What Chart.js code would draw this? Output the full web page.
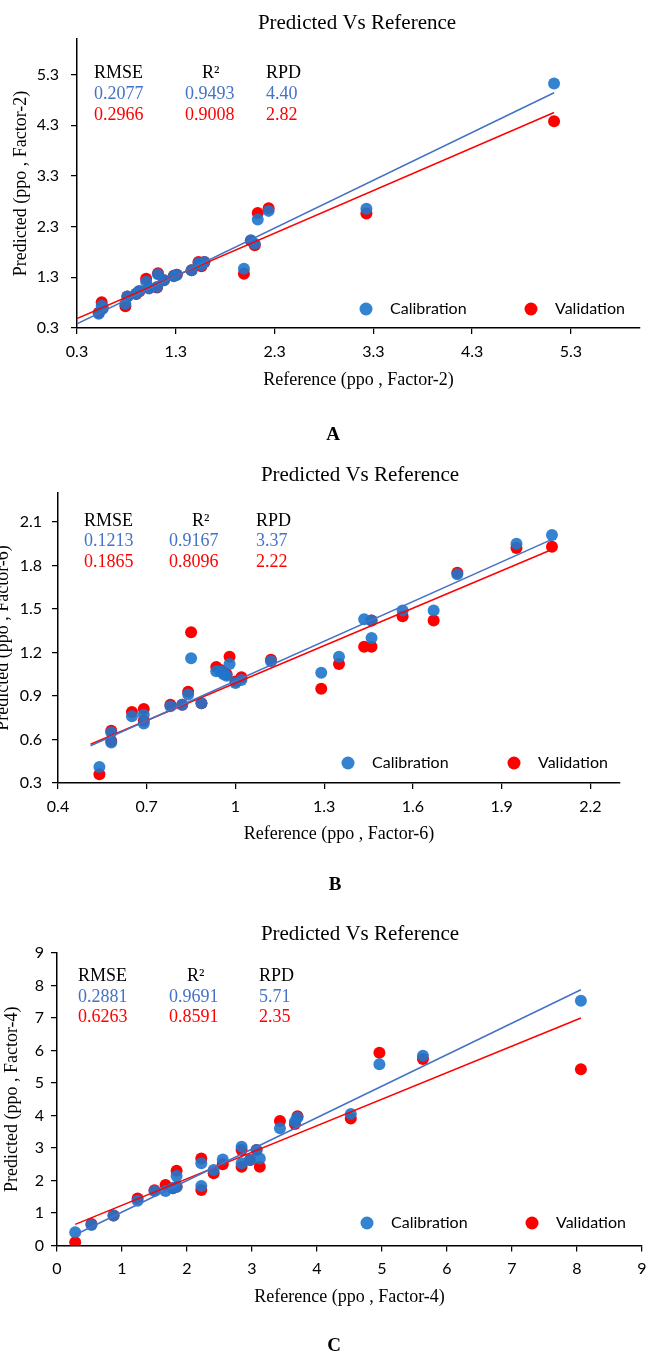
<!DOCTYPE html>
<html>
<head>
<meta charset="utf-8">
<script src="https://cdn.jsdelivr.net/npm/chart.js@4.4.0/dist/chart.umd.min.js"></script>
<style>
  body { margin: 0; background: #fff; }
  canvas { position: absolute; left: 0; }
</style>
</head>
<body>
<canvas id="chartA" width="648" height="450" style="top:0px"></canvas>
<canvas id="chartB" width="648" height="450" style="top:450px"></canvas>
<canvas id="chartC" width="648" height="453" style="top:900px"></canvas>
<script>
// ---- panel A (Factor-2) ----
const refA = [0.52, 0.55, 0.56, 0.79, 0.81, 0.90, 0.93, 1.00, 1.03, 1.11, 1.12, 1.18, 1.28, 1.31, 1.46, 1.53, 1.56, 1.59, 1.99, 2.06, 2.10, 2.13, 2.24, 3.23, 5.13];
const calA = [0.58, 0.74, 0.68, 0.78, 0.92, 0.98, 1.03, 1.21, 1.08, 1.11, 1.36, 1.24, 1.32, 1.35, 1.44, 1.58, 1.54, 1.60, 1.47, 2.03, 1.96, 2.44, 2.61, 2.65, 5.12];
const valA = [0.60, 0.81, 0.70, 0.73, 0.92, 0.97, 1.02, 1.27, 1.09, 1.10, 1.38, 1.24, 1.33, 1.35, 1.44, 1.60, 1.52, 1.60, 1.37, 2.02, 1.93, 2.57, 2.66, 2.56, 4.38];
const fitCalA = [[0.3, 0.38], [5.13, 4.94]];
const fitValA = [[0.3, 0.485], [5.13, 4.55]];
const ticksA = [0.3, 1.3, 2.3, 3.3, 4.3, 5.3];
const tickLabelsA = ['0.3', '1.3', '2.3', '3.3', '4.3', '5.3'];
const statsA = { cal: ['0.2077', '0.9493', '4.40'], val: ['0.2966', '0.9008', '2.82'] };

// ---- panel B (Factor-6) ----
const refB = [0.54, 0.58, 0.58, 0.65, 0.69, 0.69, 0.78, 0.82, 0.84, 0.85, 0.885, 0.935, 0.95, 0.96, 0.97, 0.98, 1.00, 1.02, 1.12, 1.29, 1.35, 1.435, 1.46, 1.46, 1.565, 1.67, 1.75, 1.95, 2.07];
const calB = [0.41, 0.65, 0.58, 0.76, 0.77, 0.71, 0.83, 0.84, 0.91, 1.16, 0.85, 1.07, 1.07, 1.05, 1.04, 1.12, 0.99, 1.01, 1.14, 1.06, 1.17, 1.43, 1.42, 1.30, 1.49, 1.49, 1.74, 1.95, 2.01];
const valB = [0.36, 0.66, 0.59, 0.79, 0.81, 0.73, 0.84, 0.84, 0.93, 1.34, 0.85, 1.10, 1.08, 1.06, 1.05, 1.17, 1.00, 1.03, 1.15, 0.95, 1.12, 1.24, 1.42, 1.24, 1.45, 1.42, 1.75, 1.92, 1.93];
const fitCalB = [[0.51, 0.557], [2.07, 1.98]];
const fitValB = [[0.51, 0.567], [2.07, 1.91]];
const xTicksB = [0.4, 0.7, 1, 1.3, 1.6, 1.9, 2.2];
const xTickLabelsB = ['0.4', '0.7', '1', '1.3', '1.6', '1.9', '2.2'];
const yTicksB = [0.3, 0.6, 0.9, 1.2, 1.5, 1.8, 2.1];
const yTickLabelsB = ['0.3', '0.6', '0.9', '1.2', '1.5', '1.8', '2.1'];
const statsB = { cal: ['0.1213', '0.9167', '3.37'], val: ['0.1865', '0.8096', '2.22'] };

// ---- panel C (Factor-4) ----
const refC = [0.28, 0.53, 0.87, 1.24, 1.50, 1.67, 1.78, 1.84, 1.84, 2.22, 2.22, 2.41, 2.55, 2.84, 2.84, 2.97, 3.07, 3.12, 3.43, 3.66, 3.70, 4.52, 4.96, 5.63, 8.06];
const calC = [0.41, 0.63, 0.92, 1.38, 1.68, 1.68, 1.76, 1.81, 2.14, 2.53, 1.83, 2.32, 2.65, 3.04, 2.53, 2.63, 2.94, 2.68, 3.61, 3.81, 3.94, 4.05, 5.58, 5.84, 7.53];
const valC = [0.10, 0.66, 0.92, 1.45, 1.70, 1.86, 1.76, 1.81, 2.30, 2.68, 1.71, 2.22, 2.50, 2.94, 2.42, 2.63, 2.94, 2.42, 3.83, 3.74, 3.98, 3.91, 5.93, 5.74, 5.42];
const fitCalC = [[0.28, 0.33], [8.06, 7.87]];
const fitValC = [[0.28, 0.65], [8.06, 7.0]];
const ticksC = [0, 1, 2, 3, 4, 5, 6, 7, 8, 9];
const tickLabelsC = ['0', '1', '2', '3', '4', '5', '6', '7', '8', '9'];
const statsC = { cal: ['0.2881', '0.9691', '5.71'], val: ['0.6263', '0.8591', '2.35'] };

const statHeaders = ['RMSE', 'R\u00B2', 'RPD'];
const seriesNames = ['Calibration', 'Validation'];

const BLUE_DOT = 'rgba(30,118,204,0.9)';
const RED = '#ff0000';
const BLUE_TXT = '#4472c4';
const SERIF = '"Liberation Serif", "Times New Roman", serif';
const SANS = 'Lato, "Liberation Sans", sans-serif';

function pts(xs, ys) {
  return xs.map((x, i) => ({ x: x, y: ys[i] }));
}
function seg(p) {
  return p.map(q => ({ x: q[0], y: q[1] }));
}

// draws title, axis titles, stats table, legend and panel letter
const panelText = {
  id: 'panelText',
  afterDraw(chart, args, o) {
    const ctx = chart.ctx;
    const a = chart.chartArea;
    ctx.save();
    ctx.textBaseline = 'middle';
    ctx.fillStyle = '#000';

    ctx.textAlign = 'center';
    ctx.font = '21px ' + SERIF;
    ctx.fillText('Predicted Vs Reference', o.titleX, o.titleY);

    ctx.font = '18px ' + SERIF;
    ctx.fillText(o.xTitle, (a.left + a.right) / 2, o.xTitleY);
    ctx.save();
    ctx.translate(o.yTitleX, (a.top + a.bottom) / 2);
    ctx.rotate(-Math.PI / 2);
    ctx.fillText(o.yTitle, 0, 0);
    ctx.restore();

    ctx.font = 'bold 19px ' + SERIF;
    ctx.fillText(o.letter, o.letterX, o.letterY);

    // stats table
    ctx.textAlign = 'left';
    ctx.font = '18px ' + SERIF;
    ctx.fillText(statHeaders[0], o.cols[0], o.rows[0]);
    ctx.fillText(statHeaders[1], o.r2X, o.rows[0]);
    ctx.fillText(statHeaders[2], o.cols[2], o.rows[0]);
    ctx.fillStyle = BLUE_TXT;
    o.stats.cal.forEach((s, i) => ctx.fillText(s, o.cols[i], o.rows[1]));
    ctx.fillStyle = RED;
    o.stats.val.forEach((s, i) => ctx.fillText(s, o.cols[i], o.rows[2]));

    // legend
    ctx.font = '16px ' + SANS;
    const colors = [BLUE_DOT, RED];
    for (let i = 0; i < 2; i++) {
      ctx.fillStyle = colors[i];
      ctx.beginPath();
      ctx.arc(o.legX[i], o.legY, 6.5, 0, Math.PI * 2);
      ctx.fill();
      ctx.fillStyle = '#000';
      ctx.fillText(seriesNames[i], o.legX[i] + 24, o.legY);
    }
    ctx.restore();
  }
};

function axis(min, max, ticks, labels, isX, box, pad) {
  return {
    type: 'linear',
    min: min,
    max: max,
    afterBuildTicks: s => { s.ticks = ticks.map(v => ({ value: v })); },
    afterFit: s => {
      if (isX) { s.height = box; s.paddingLeft = 0; s.paddingRight = 0; }
      else { s.width = box; s.paddingTop = 0; s.paddingBottom = 0; }
    },
    ticks: {
      callback: (v, i) => labels[i],
      autoSkip: false,
      maxRotation: 0,
      padding: pad,
      color: '#000',
      font: { family: SANS, size: 16 }
    },
    grid: { drawOnChartArea: false, drawTicks: true, tickLength: 6, color: '#000', lineWidth: 1.25 },
    border: { display: true, color: '#000', width: 1.5 }
  };
}

function makeChart(id, d) {
  const cv = document.getElementById(id);
  return new Chart(cv.getContext('2d'), {
    type: 'scatter',
    data: {
      datasets: [
        { type: 'line', data: seg(d.fitCal), borderColor: BLUE_TXT, borderWidth: 1.5, pointRadius: 0, order: 0 },
        { type: 'line', data: seg(d.fitVal), borderColor: RED, borderWidth: 1.5, pointRadius: 0, order: 0 },
        { label: seriesNames[0], data: pts(d.ref, d.cal), backgroundColor: BLUE_DOT, borderWidth: 0, pointRadius: 6, order: 1 },
        { label: seriesNames[1], data: pts(d.ref, d.val), backgroundColor: RED, borderWidth: 0, pointRadius: 6, order: 1 }
      ]
    },
    options: {
      responsive: false,
      animation: false,
      layout: { padding: { left: 0, top: d.area[1], right: cv.width - d.area[2], bottom: 0 } },
      scales: {
        x: axis(d.xr[0], d.xr[1], d.xt, d.xl, true, cv.height - d.area[3], d.xPad),
        y: axis(d.yr[0], d.yr[1], d.yt, d.yl, false, d.area[0], d.yPad)
      },
      plugins: {
        legend: { display: false },
        tooltip: { enabled: false },
        panelText: d.text
      }
    },
    plugins: [panelText]
  });
}

makeChart('chartA', {
  ref: refA, cal: calA, val: valA, fitCal: fitCalA, fitVal: fitValA,
  xr: [0.3, 6.0], yr: [0.3, 6.0], xt: ticksA, xl: tickLabelsA, yt: ticksA, yl: tickLabelsA,
  area: [77, 39, 640, 328], xPad: 8, yPad: 12,
  text: {
    titleX: 357, titleY: 23, xTitle: 'Reference (ppo , Factor-2)', xTitleY: 380,
    yTitle: 'Predicted (ppo , Factor-2)', yTitleX: 21, letter: 'A', letterX: 333, letterY: 435,
    cols: [94, 185, 266], r2X: 202, rows: [73, 94, 115], stats: statsA,
    legX: [366, 531], legY: 309
  }
});

makeChart('chartB', {
  ref: refB, cal: calB, val: valB, fitCal: fitCalB, fitVal: fitValB,
  xr: [0.4, 2.3], yr: [0.3, 2.3], xt: xTicksB, xl: xTickLabelsB, yt: yTicksB, yl: yTickLabelsB,
  area: [58, 43, 620, 333], xPad: 8, yPad: 10,
  text: {
    titleX: 360, titleY: 25, xTitle: 'Reference (ppo , Factor-6)', xTitleY: 384,
    yTitle: 'Predicted (ppo , Factor-6)', yTitleX: 3, letter: 'B', letterX: 335, letterY: 435,
    cols: [84, 169, 256], r2X: 192, rows: [71, 91, 112], stats: statsB,
    legX: [348, 514], legY: 313
  }
});

makeChart('chartC', {
  ref: refC, cal: calC, val: valC, fitCal: fitCalC, fitVal: fitValC,
  xr: [0, 9], yr: [0, 9], xt: ticksC, xl: tickLabelsC, yt: ticksC, yl: tickLabelsC,
  area: [57, 53, 645.5, 345.5], xPad: 8, yPad: 7,
  text: {
    titleX: 360, titleY: 34, xTitle: 'Reference (ppo , Factor-4)', xTitleY: 397,
    yTitle: 'Predicted (ppo , Factor-4)', yTitleX: 12, letter: 'C', letterX: 334, letterY: 446,
    cols: [78, 169, 259], r2X: 187, rows: [76, 97, 117], stats: statsC,
    legX: [367, 532], legY: 323
  }
});
</script>
</body>
</html>
